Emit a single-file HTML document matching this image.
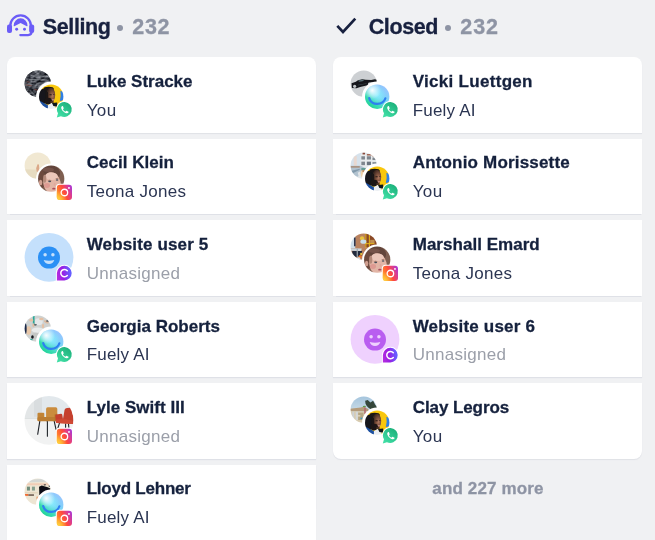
<!DOCTYPE html>
<html>
<head>
<meta charset="utf-8">
<style>
*{box-sizing:border-box;margin:0;padding:0}
html,body{width:655px;height:540px;overflow:hidden;background:#f0f1f3}
#wrap{position:absolute;left:0;top:0;width:655px;height:540px;will-change:transform}
body{position:relative;font-family:"Liberation Sans",sans-serif;color:#15213d}
.hd{-webkit-text-stroke:0.3px #18213f;position:absolute;top:13px;height:28px;line-height:28px;font-size:21.5px;font-weight:700;color:#18213f;white-space:nowrap;letter-spacing:-0.45px}
.cnt{-webkit-text-stroke:0.3px #8e94a4;position:absolute;top:13px;height:28px;line-height:28px;font-size:21.5px;font-weight:700;color:#8e94a4;white-space:nowrap}
.dot{position:absolute;width:6px;height:6px;border-radius:50%;background:#8e94a4;top:25px}
.card{position:absolute;width:308.5px;height:75.8px;background:#fff;box-shadow:0 1.2px 0.8px -0.3px rgba(140,146,170,.17)}
.card.first{border-radius:8px 8px 0 0}
.card.last{border-radius:0 0 8px 8px}
.nm{-webkit-text-stroke:0.28px #15213d;position:absolute;left:79.7px;top:13.8px;font-size:17px;line-height:22px;font-weight:700;color:#15213d;white-space:nowrap}
.sb{position:absolute;left:79.7px;top:42.7px;font-size:17px;line-height:22px;color:#2b3552;white-space:nowrap}
.sb.un{color:#9b9fa9}
.av{position:absolute;left:0;top:0;width:80px;height:76px;overflow:visible}
.more{-webkit-text-stroke:0.28px #8e94a4;position:absolute;left:334px;width:308px;top:478px;letter-spacing:0.14px;text-align:center;font-size:17px;line-height:22px;font-weight:700;color:#8e94a4}
.ico{position:absolute;overflow:visible}
</style>
</head>
<body><div id="wrap">
<svg width="0" height="0" style="position:absolute">
<defs>
<filter id="b3" x="-20%" y="-20%" width="140%" height="140%"><feGaussianBlur stdDeviation="0.35"/></filter>
<filter id="b6" x="-20%" y="-20%" width="140%" height="140%"><feGaussianBlur stdDeviation="0.6"/></filter>
<clipPath id="c122"><circle r="12.2"/></clipPath>
<clipPath id="c131"><circle r="13.15"/></clipPath>
<clipPath id="c244"><circle r="24.4"/></clipPath>

<!-- YOU avatar -->
<radialGradient id="yf" cx="0.68" cy="0.55" r="0.6">
 <stop offset="0" stop-color="#b07a60"/><stop offset="0.45" stop-color="#7c4f3b"/><stop offset="1" stop-color="#3c2820"/>
</radialGradient>
<g id="you">
 <g clip-path="url(#c122)"><g filter="url(#b3)">
  <rect x="-13" y="-13" width="26" height="26" fill="#f9c70c"/>
  <path d="M9.2,-6 Q13,-5 13,0 Q13,4 8.6,4.4 Q10,-1 9.2,-6Z" fill="#2f7fe6"/>
  <ellipse cx="-8" cy="-0.3" rx="5.2" ry="7.6" fill="#14171b"/>
  <ellipse cx="-2.6" cy="-7.6" rx="5.2" ry="2.4" fill="#1a1614"/>
  <ellipse cx="-0.4" cy="-1.6" rx="4.4" ry="7.4" fill="url(#yf)"/>
  <ellipse cx="-3" cy="4.4" rx="3.8" ry="3.4" fill="#1c1614"/>
  <ellipse cx="-4.6" cy="-1" rx="1.6" ry="4.4" fill="#1a1614"/>
  <ellipse cx="-0.6" cy="-1.9" rx="1.4" ry="0.55" fill="#1e1412"/>
  <ellipse cx="2.6" cy="-2.1" rx="0.9" ry="0.45" fill="#2a1a16"/>
  <ellipse cx="1.7" cy="3" rx="1.3" ry="0.75" fill="#c48e86"/>
  <ellipse cx="0.8" cy="5.2" rx="2" ry="1" fill="#4a3026"/>
  <path d="M-11.5,4 L-3,8.6 L-3,13 L-13,13Z" fill="#1d4f9f"/>
  <path d="M-3.3,8.4 L0.5,6.4 L4.4,8 L4.4,13 L-3.3,13Z" fill="#eceff3"/>
  <path d="M0.8,6.2 L6,5.8 L6,10 L2.2,9.2Z" fill="#10151a"/>
 </g></g>
</g>

<!-- TEONA avatar -->
<g id="teona">
 <g clip-path="url(#c131)"><g filter="url(#b3)">
  <rect x="-14" y="-14" width="28" height="28" fill="#7f5e51"/>
  <ellipse cx="-2.7" cy="-5.5" rx="11.5" ry="8.5" fill="#62443a"/>
  <ellipse cx="-3" cy="-9" rx="6" ry="2.2" fill="#74524a"/>
  <ellipse cx="-9.8" cy="0.6" rx="4" ry="9" fill="#6c4a3e"/>
  <ellipse cx="-10.6" cy="3.8" rx="1.7" ry="2.8" fill="#cf9f90"/>
  <ellipse cx="0.8" cy="4.4" rx="8.6" ry="11" fill="#e2b5a6" transform="rotate(-12 0.8 4.4)"/>
  <ellipse cx="0.3" cy="-2.4" rx="6.2" ry="3.8" fill="#ebc7ba"/>
  <ellipse cx="-6.5" cy="0" rx="1.6" ry="4" fill="#b48a7a"/>
  <ellipse cx="-4.2" cy="6.8" rx="3" ry="2.4" fill="#dd9a92"/>
  <ellipse cx="-1.5" cy="2.7" rx="1.5" ry="0.75" fill="#46505c"/>
  <ellipse cx="5.9" cy="1.2" rx="1.3" ry="0.75" fill="#46505c"/>
  <ellipse cx="-1.6" cy="1.5" rx="2" ry="0.45" fill="#8a6658"/>
  <ellipse cx="5.8" cy="0" rx="1.7" ry="0.4" fill="#8a6658"/>
  <ellipse cx="3.4" cy="5.6" rx="0.9" ry="1.6" fill="#dfa89c"/>
  <ellipse cx="2.7" cy="10" rx="1.8" ry="0.9" fill="#a74e5b"/>
 </g></g>
</g>

<!-- FUELY orb -->
<linearGradient id="fg1" x1="0.85" y1="0.1" x2="0.15" y2="0.9">
 <stop offset="0" stop-color="#98c4ff"/><stop offset="0.45" stop-color="#74d6f6"/><stop offset="0.75" stop-color="#3bdcb4"/><stop offset="1" stop-color="#1fd296"/>
</linearGradient>
<radialGradient id="fg2" cx="0.3" cy="0.24" r="0.36">
 <stop offset="0" stop-color="#fff" stop-opacity="0.95"/><stop offset="1" stop-color="#fff" stop-opacity="0"/>
</radialGradient>
<radialGradient id="fg3" cx="0.5" cy="0.42" r="0.36">
 <stop offset="0" stop-color="#8ef0ff" stop-opacity="0.9"/><stop offset="1" stop-color="#8ef0ff" stop-opacity="0"/>
</radialGradient>
<g id="fuely">
  <circle r="12.2" fill="url(#fg1)"/>
  <circle r="12.2" fill="url(#fg3)"/>
  <circle r="12.2" fill="url(#fg2)"/>
  <path d="M-8,1.4 Q-6.5,7.2 0,7.2 Q6.5,7.2 8.2,1.6" fill="none" stroke="#2e80f0" stroke-width="2.2" stroke-linecap="round" filter="url(#b3)"/>
</g>

<!-- WhatsApp badge: box 0..15.4 -->
<linearGradient id="wg" x1="0.8" y1="0.1" x2="0.2" y2="0.95">
 <stop offset="0" stop-color="#1db27c"/><stop offset="1" stop-color="#40dea5"/>
</linearGradient>
<g id="wa">
 <path id="wap" d="M7.9,0 A7.5,7.5 0 1 1 4.1,14.2 L0,15.4 L1.2,11.3 A7.5,7.5 0 0 1 7.9,0Z" fill="#fff" stroke="#fff" stroke-width="2" stroke-linejoin="round"/>
 <path d="M7.9,0 A7.5,7.5 0 1 1 4.1,14.2 L0,15.4 L1.2,11.3 A7.5,7.5 0 0 1 7.9,0Z" fill="url(#wg)"/>
 <path d="M5.6,3.9 C5.2,3.9 4.4,4.6 4.4,5.7 C4.4,7 5.5,8.6 6.9,9.8 C8.2,10.9 9.6,11.4 10.4,11.3 C11.2,11.2 11.8,10.6 11.8,10.1 C11.8,9.8 11.6,9.7 11.3,9.5 L10,8.9 C9.7,8.8 9.5,8.8 9.3,9.1 L8.9,9.6 C8.7,9.8 8.5,9.8 8.2,9.6 C7.5,9.2 6.7,8.4 6.3,7.7 C6.2,7.5 6.2,7.3 6.4,7.1 L6.7,6.7 C6.9,6.5 6.9,6.3 6.8,6 L6.3,4.5 C6.1,4 5.9,3.9 5.6,3.9Z" fill="#fff"/>
</g>

<!-- Instagram badge: box 0..15.2 -->
<linearGradient id="ig1" x1="0" y1="0.72" x2="1" y2="0.28">
 <stop offset="0" stop-color="#ffa42e"/><stop offset="0.2" stop-color="#ff7a30"/><stop offset="0.5" stop-color="#ff4a3c"/><stop offset="0.78" stop-color="#de3c8c"/><stop offset="1" stop-color="#ae38ce"/>
</linearGradient>
<radialGradient id="ig2" cx="0.05" cy="1.0" r="0.62">
 <stop offset="0" stop-color="#ffdc44"/><stop offset="0.45" stop-color="#ffc238" stop-opacity="0.75"/><stop offset="1" stop-color="#ffb030" stop-opacity="0"/>
</radialGradient>
<g id="ig" transform="translate(0,0.7)">
 <rect x="-1" y="-1" width="17.2" height="17.2" rx="4" fill="#fff"/>
 <rect x="0" y="0" width="15.2" height="15.2" rx="3" fill="url(#ig1)"/><rect x="0" y="0" width="15.2" height="15.2" rx="3" fill="url(#ig2)"/>
 <circle cx="7.6" cy="7.8" r="3.25" fill="none" stroke="#fff" stroke-width="1.3"/>
 <rect x="11.3" y="2.4" width="1.7" height="1.7" rx="0.4" fill="#fff"/>
</g>

<!-- C chat badge: box 0..15 x 0..14.6 -->
<linearGradient id="cg" x1="0" y1="0.6" x2="1" y2="0.45">
 <stop offset="0" stop-color="#b42ce0"/><stop offset="0.4" stop-color="#9a1ee2"/><stop offset="0.85" stop-color="#6a58ff"/><stop offset="1" stop-color="#6262ff"/>
</linearGradient>
<g id="cc" transform="translate(0.1,0.8)">
 <path d="M7.5,0 A7.3,7.3 0 0 1 7.5,14.6 L0,14.6 L0,7.3 A7.4,7.3 0 0 1 7.5,0Z" fill="#fff" stroke="#fff" stroke-width="2" stroke-linejoin="round"/>
 <path d="M7.5,0 A7.3,7.3 0 0 1 7.5,14.6 L0,14.6 L0,7.3 A7.4,7.3 0 0 1 7.5,0Z" fill="url(#cg)"/>
 <path d="M10.4,4.9 A3.7,3.7 0 1 0 10.4,9.7" fill="none" stroke="#fff" stroke-width="1.5" stroke-linecap="round"/>
</g>
</defs>
</svg>

<svg width="0" height="0" style="position:absolute">
<defs>
<filter id="noise1" x="0" y="0" width="100%" height="100%" color-interpolation-filters="sRGB">
  <feTurbulence type="fractalNoise" baseFrequency="0.22 0.55" numOctaves="2" seed="7" result="n"/>
  <feColorMatrix in="n" type="matrix" values="1.6 0 0 0 -0.50  1.6 0 0 0 -0.49  1.6 0 0 0 -0.46  0 0 0 0 1"/>
</filter>

<!-- P1 Luke: dark aerial -->
<g id="p1"><g clip-path="url(#c131)">
  <rect x="-14" y="-14" width="28" height="28" fill="#3f444a"/>
  <g transform="rotate(-14)"><rect x="-16" y="-16" width="32" height="32" filter="url(#noise1)" opacity="0.8"/></g>
  <g filter="url(#b3)" opacity="0.55">
   <path d="M-12,0.5 L-6,1.6 L-6,2.6 L-12,1.6Z M-3,5 L2,6.6 L1.6,7.8 L-3.4,6.2Z M-11,-2.5 L-8,-2 L-8,-1 L-11,-1.5Z" fill="#8a3a2c"/>
   <path d="M-7,-8.5 L9,-8 L9,-7 L-7,-7.5Z M-9,-4.8 L11,-4 L11,-3.2 L-9,-4Z M-2,-0.5 L6,0.3 L6,1.2 L-2,0.5Z" fill="#a4a9ae"/>
   <path d="M-8,4 L-2,10 L-5,12 L-10,7Z" fill="#23272c"/>
   <path d="M-7,6 L-3,11 L-4.5,12 L-8.5,7Z" fill="#6b7076"/>
  </g>
</g></g>

<!-- P2 Cecil: cream -->
<g id="p2"><g clip-path="url(#c131)"><g filter="url(#b3)">
  <rect x="-14" y="-14" width="28" height="28" fill="#f1e8d2"/>
  <path d="M-14,3.5 L1,4.2 L1,14 L-14,14Z" fill="#e7dcc1"/>
  <path d="M-0.2,-1.5 L1.2,-1.2 L1.6,4 L3.2,6 L-1,6 L-1.6,2.5Z" fill="#dba888"/>
</g></g></g>

<!-- P4 Georgia -->
<g id="p4"><g clip-path="url(#c131)"><g filter="url(#b6)">
  <rect x="-14" y="-14" width="28" height="28" fill="#cfd2d1"/>
  <ellipse cx="1" cy="-7" rx="4" ry="3.4" fill="#e4e7e8"/>
  <ellipse cx="0" cy="1.5" rx="6" ry="2.6" fill="#e9ebeb"/>
  <ellipse cx="-2" cy="7" rx="4" ry="3" fill="#c4c6c4"/>
  <rect x="-4.9" y="-13" width="1.7" height="8.6" rx="0.8" fill="#2aa898"/>
  <ellipse cx="-6.5" cy="-8.4" rx="2.2" ry="1.3" fill="#e6c2a4"/>
  <ellipse cx="-4.4" cy="-3.3" rx="1" ry="2" fill="#e0bea2"/>
  <ellipse cx="3.6" cy="-9.6" rx="2.2" ry="1.2" fill="#e4c0a4"/>
  <ellipse cx="8.6" cy="-6.8" rx="2.6" ry="1.2" fill="#dcb89c" transform="rotate(25 8.6 -6.8)"/>
  <ellipse cx="9.8" cy="-7.6" rx="1.6" ry="0.8" fill="#4a5058"/>
  <ellipse cx="5.3" cy="-2.6" rx="1.1" ry="2.2" fill="#e4c0a4"/>
  <ellipse cx="-9.2" cy="1.8" rx="2.6" ry="4.2" fill="#e8c8aa"/>
  <ellipse cx="-12.4" cy="0" rx="1.3" ry="5.5" fill="#1c2a48"/>
  <ellipse cx="-2.4" cy="-3.8" rx="1.6" ry="0.8" fill="#56646a"/>
  <ellipse cx="-5.3" cy="8.4" rx="1.3" ry="1.8" fill="#15171c"/>
  <ellipse cx="-6.5" cy="11" rx="1.5" ry="0.8" fill="#3aa99a"/>
</g></g></g>

<!-- P6 Lloyd -->
<g id="p6"><g clip-path="url(#c131)"><g filter="url(#b3)">
  <rect x="-14" y="-14" width="28" height="28" fill="#ede5d3"/>
  <path d="M-8,-12 L6,-13 L10,-10 L-9,-9.5Z" fill="#d5d8d5"/>
  <rect x="-14" y="-8.4" width="28" height="2" fill="#f1cdb6"/>
  <rect x="-10.8" y="-5" width="3" height="3.9" fill="#6f8d7b"/>
  <rect x="-5.8" y="-5" width="3" height="3.9" fill="#86a08f"/>
  <path d="M1.3,-5 L4,-6.2 L10,-4.5 L13,-3 L10,0 L5,3.2 L1.6,3.4Z" fill="#0f1113"/>
  <path d="M6,-7.2 L8,-7.4 L8,-6.4 L6,-6.2Z M11,-6.5 L12.4,-6.5 L12.4,-5 L11,-5Z" fill="#22262a"/>
  <rect x="-13.5" y="2.5" width="4.1" height="1.6" fill="#f05a1a"/>
  <rect x="-9.4" y="2.7" width="5.6" height="1.4" fill="#5e4b40"/>
  <ellipse cx="-0.6" cy="6.3" rx="0.8" ry="1.6" fill="#e79f72"/>
  <rect x="-14" y="0.9" width="14" height="0.7" fill="#d9c6a6"/>
</g></g></g>

<!-- P7 Vicki: car -->
<g id="p7"><g clip-path="url(#c131)"><g filter="url(#b3)">
  <rect x="-14" y="-14" width="28" height="28" fill="#cdd0d3"/>
  <path d="M-11.9,4.25 L-12.2,-0.3 L-7.9,-1.9 L-5.8,-3.4 L-1.5,-4.5 L1.9,-4 L7.4,-3.7 L11,-4.5 L13.4,-4 L13.4,-1.9 L8,-1.2 L4.9,-0.9 L3.7,1.5 L-3.6,3.3 L-7.3,4.6Z" fill="#14171b"/>
  <path d="M-5.6,-2.9 L-1.6,-4 L0.6,-3.7 L-1.2,-2.3 L-4.6,-1.9Z" fill="#5c727a"/>
  <circle cx="-9.1" cy="2.7" r="1.6" fill="#c2c6ca"/>
  <path d="M-6,1.2 L3,-0.4 L3,0.2 L-6,1.9Z" fill="#39424a"/>
  <path d="M4.9,-0.9 L8,-1.2 L7,0 L4.4,0.3Z" fill="#e2e4e6"/>
</g></g></g>

<!-- P8 Antonio: building -->
<g id="p8"><g clip-path="url(#c131)"><g filter="url(#b3)">
  <rect x="-14" y="-14" width="28" height="28" fill="#e2e7ea"/>
  <path d="M-14,-14 L-2,-14 L-3.4,0 L-14,0Z" fill="#d6e2ec"/>
  <path d="M-10,-9 L-7,-10 L-7,0 L-10,0Z" fill="#e8d8d0"/>
  <path d="M-3,-11.5 L13.5,-11.5 L13.5,1 L-3,1Z" fill="#e9ecee"/>
  <g fill="#7f868e">
   <rect x="-2.4" y="-9.4" width="3.6" height="3.3"/><rect x="3.1" y="-9.4" width="4.1" height="3.3"/><rect x="8.7" y="-8.2" width="3.6" height="2.6"/>
   <rect x="-2.4" y="-4" width="3.6" height="3.5"/><rect x="3.1" y="-4" width="4.1" height="3.5" fill="#6c7480"/><rect x="8.7" y="-3.7" width="4" height="2.8" fill="#8d949c"/>
  </g>
  <rect x="-1.2" y="-13.2" width="2.5" height="2" fill="#8a4a3a"/>
  <rect x="3.1" y="-11.6" width="4.8" height="1.5" fill="#9e6250"/>
  <rect x="8.4" y="-10.4" width="2" height="1.2" fill="#a8705c"/>
  <path d="M-14,0 L-3,0 L1,2 L0,6 L-6,11 L-14,8Z" fill="#b1c2cf"/>
  <rect x="-13.5" y="0.6" width="9.5" height="1.3" fill="#a8856c"/>
  <path d="M-12,5 L-4,3 L-4,4 L-11,7.5Z" fill="#8199ab"/>
  <rect x="-2.4" y="2.4" width="4.4" height="2.5" fill="#5f9c92"/>
  <ellipse cx="-1.4" cy="8" rx="1.6" ry="3.4" fill="#ecd0ac"/>
  <circle cx="-0.2" cy="5.4" r="1.3" fill="#b98a62"/>
  <path d="M-6,7 L-3.5,5.5 L-3,9 L-5,11Z" fill="#e3e6e8"/>
</g></g></g>

<!-- P9 Marshall -->
<g id="p9"><g clip-path="url(#c131)"><g filter="url(#b3)">
  <rect x="-14" y="-14" width="28" height="28" fill="#b9825f"/>
  <rect x="-14" y="-11" width="5.5" height="12.6" fill="#cfdfeb"/>
  <rect x="-9.7" y="-9.2" width="1.5" height="8.8" fill="#2a3048"/>
  <rect x="1.3" y="-13" width="12" height="13.4" fill="#8a4826"/>
  <rect x="6.4" y="-6.8" width="4.4" height="3.4" fill="#c09050"/>
  <g fill="#e7b81f">
   <rect x="1.6" y="-13" width="1" height="14"/><rect x="5.1" y="-13" width="1" height="14"/><rect x="1.3" y="-3.5" width="9.4" height="1"/>
  </g>
  <ellipse cx="-1.7" cy="-8.3" rx="2.1" ry="2.1" fill="#e8c43c"/>
  <ellipse cx="-0.4" cy="-5" rx="3" ry="2.1" fill="#c9dde9"/>
  <path d="M-14,1.6 L-2,1.9 L-2.6,4.4 L-14,4.2Z" fill="#cbd6de"/>
  <path d="M-11.5,4.3 L-1.6,4.4 L-2.2,9 L-8,10.5 L-11.5,8Z" fill="#222a3c"/>
  <rect x="-7.1" y="1.9" width="1.2" height="9" fill="#9ea8b0"/>
  <ellipse cx="-2.6" cy="7.4" rx="1" ry="1.2" fill="#e8c43c"/>
  <ellipse cx="-3.6" cy="9.8" rx="1.6" ry="1.5" fill="#e8742e"/>
  <ellipse cx="-5" cy="11.5" rx="1.6" ry="0.9" fill="#d8dde2"/>
</g></g></g>

<!-- P11 Clay -->
<linearGradient id="sky" x1="0" y1="0" x2="0" y2="1"><stop offset="0" stop-color="#a3c4dd"/><stop offset="0.5" stop-color="#c6d9e5"/></linearGradient>
<g id="p11"><g clip-path="url(#c131)"><g filter="url(#b3)">
  <rect x="-14" y="-14" width="28" height="28" fill="url(#sky)"/>
  <path d="M1.4,-9 L4,-9.6 L6.6,-7.2 L9.4,-8.8 L11.4,-5 L13.5,-2.4 L13.5,0.6 L8,0 L5,-1.6 L3,-3.6 L1.8,-6Z" fill="#35463a"/>
  <path d="M-14,-0.9 L-3,-2.2 L0,-3 L4,-1 L6.6,1.9 L-14,1.6Z" fill="#b49b7a"/>
  <path d="M-14,1.5 L6.6,1.8 L3,14 L-14,14Z" fill="#d8ccb1"/>
  <rect x="-11.4" y="2.2" width="1.8" height="7.4" fill="#cdd2d6"/>
  <rect x="-8" y="2.2" width="2.2" height="8" fill="#d3d6d8"/>
  <rect x="-5.6" y="3" width="5.4" height="7.4" fill="#b5a684"/>
  <rect x="-6.4" y="5.6" width="3" height="1.2" fill="#e6dcc4"/>
  <rect x="0.5" y="-2.2" width="1.5" height="6.4" fill="#b2646c"/>
  <ellipse cx="0.6" cy="-3.2" rx="1.6" ry="0.8" fill="#5f9c4c"/>
  <rect x="-3.2" y="8" width="1.7" height="1.5" fill="#3b9bc9"/>
</g></g></g>

<!-- P5 Lyle big (r=24.4) -->
<g id="p5"><g clip-path="url(#c244)"><g filter="url(#b3)">
  <rect x="-25" y="-25" width="50" height="50" fill="#e9ebec"/>
  <rect x="-25" y="-25" width="18" height="23" fill="#e3e6e7"/>
  <rect x="-15" y="-23" width="8" height="19.5" fill="#d9dddf"/>
  <rect x="-7" y="-25" width="32" height="24" fill="#e2e8ec"/>
  <rect x="-25" y="-1.8" width="50" height="27" fill="#f1f2f2"/>
  <rect x="-25" y="-2.2" width="18" height="0.8" fill="#dadddd"/>
  <!-- tan chair -->
  <g stroke="#1e2228" stroke-width="1.1" fill="none" stroke-linecap="round">
   <path d="M-9.2,0.8 L-11.3,14"/><path d="M-1.6,1 L-1.6,16"/><path d="M5.2,0.8 L7,9"/>
  </g>
  <rect x="-2.9" y="-13" width="11.2" height="12" rx="1.6" fill="#ca8c3e"/>
  <rect x="-11.5" y="-7.6" width="6.8" height="8" rx="1" fill="#c28434"/>
  <rect x="-11.5" y="-3.4" width="19.8" height="4.3" rx="1" fill="#bb7d30"/>
  <path d="M5.6,-6 L8.3,-6.6 L8.3,0 L5.6,0Z" fill="#b5772c"/>
  <!-- red chair -->
  <g stroke="#1e2228" stroke-width="1.1" fill="none" stroke-linecap="round">
   <path d="M10.4,3 L9,7.4"/><path d="M16.6,3.6 L16.6,7.2"/><path d="M19.5,3.6 L19.8,7"/>
  </g>
  <path d="M15.6,-10.6 Q16.2,-12 18,-12.2 L21,-12.6 Q22.4,-12.4 22.8,-11 L24.6,-2 L24.4,3.6 L8,2.8 Q7,2.6 6.9,1.6 L6.3,-4.6 Q6.4,-5.6 7.4,-5.8 L12,-6.6 Q13,-6.6 13.2,-5.8 L14,-1.4 Z" fill="#c5402e"/>
  <path d="M7,-0.6 L14.2,-1.4 L23,0.2 L24.4,3.6 L8,2.8 Q7,2.6 6.9,1.6Z" fill="#d14a34"/>
</g></g></g>

</defs>
</svg>

<svg class="ico" style="left:6.9px;top:14.1px" width="27.2" height="22.3" viewBox="0 0 27 22" preserveAspectRatio="none">
<g fill="none" stroke="#6b5cf7" stroke-width="2.2" stroke-linecap="round">
<path d="M3.2,12 A10.3,10.6 0 0 1 23.8,12"/>
<path d="M24.4,17.6 Q24.4,20.8 21,20.8 L13.2,20.8"/>
</g>
<g fill="#6b5cf7">
<rect x="0" y="10.4" width="5" height="8.4" rx="2"/>
<rect x="22" y="10.4" width="5" height="8.4" rx="2"/>
<path d="M6.6,11.6 A6.9,7.3 0 0 1 20.4,11.6 Q20.4,12.3 19.7,12 L13.5,8.9 L7.3,12 Q6.6,12.3 6.6,11.6Z"/>
<circle cx="9.6" cy="15" r="1.45"/><circle cx="17.4" cy="15" r="1.45"/>
</g></svg>
<svg class="ico" style="left:330px;top:10.4px" width="32" height="30" viewBox="330 10 32 30">
<path d="M337.3,25.8 L343,31.9 L355.3,18.6" fill="none" stroke="#18213f" stroke-width="2.7" stroke-linejoin="miter"/></svg>
<div class="hd" style="left:42.8px;letter-spacing:-0.38px">Selling</div><div class="dot" style="left:117.3px"></div><div class="cnt" style="left:132.3px;letter-spacing:0.7px">232</div>
<div class="hd" style="left:368.7px;letter-spacing:-0.38px">Closed</div><div class="dot" style="left:445px"></div><div class="cnt" style="left:460.3px;letter-spacing:0.9px">232</div>
<div class="card first" style="left:7px;top:57px"><svg class="av" viewBox="0 0 80 76"><use href="#p1" transform="translate(30.75,26.65)"/><circle cx="44.2" cy="39.7" r="15.1" fill="#fff"/><use href="#you" transform="translate(44.2,39.7)"/><use href="#wa" transform="translate(49.8,45.0)"/></svg><div class="nm" style="top:14px;letter-spacing:0px">Luke Stracke</div><div class="sb" style="letter-spacing:0.4px">You</div></div>
<div class="card" style="left:7px;top:138.5px"><svg class="av" viewBox="0 0 80 76"><use href="#p2" transform="translate(30.75,26.65)"/><circle cx="44.2" cy="39.7" r="15.1" fill="#fff"/><use href="#teona" transform="translate(44.2,39.7)"/><use href="#ig" transform="translate(49.8,45.0)"/></svg><div class="nm" style="top:13.5px;letter-spacing:0.02px">Cecil Klein</div><div class="sb" style="letter-spacing:0.3px">Teona Jones</div></div>
<div class="card" style="left:7px;top:220px"><svg class="av" viewBox="0 0 80 76"><circle cx="42" cy="37.3" r="24.4" fill="#c4e0fc"/><circle cx="42" cy="37.599999999999994" r="11" fill="#2b90f5"/><circle cx="38.1" cy="34.699999999999996" r="1.75" fill="#c4e0fc"/><circle cx="45.9" cy="34.699999999999996" r="1.75" fill="#c4e0fc"/><path d="M36.7,40.05 Q42,41.5 47.3,40.05 Q46,44.0 42,44.0 Q38,44.0 36.7,40.05Z" fill="#c4e0fc"/><use href="#cc" transform="translate(49.8,45.0)"/></svg><div class="nm" style="top:14px;letter-spacing:0.15px">Website user 5</div><div class="sb un" style="letter-spacing:0.27px">Unnasigned</div></div>
<div class="card" style="left:7px;top:301.5px"><svg class="av" viewBox="0 0 80 76"><use href="#p4" transform="translate(30.75,26.65)"/><circle cx="44.2" cy="39.7" r="15.1" fill="#fff"/><use href="#fuely" transform="translate(44.2,39.7)"/><use href="#wa" transform="translate(49.8,45.0)"/></svg><div class="nm" style="top:14.5px;letter-spacing:0px">Georgia Roberts</div><div class="sb" style="letter-spacing:0.2px">Fuely AI</div></div>
<div class="card" style="left:7px;top:383px"><svg class="av" viewBox="0 0 80 76"><use href="#p5" transform="translate(42,37.3)"/><use href="#ig" transform="translate(49.8,45.0)"/></svg><div class="nm" style="top:14px;letter-spacing:0.03px">Lyle Swift III</div><div class="sb un" style="letter-spacing:0.27px">Unnasigned</div></div>
<div class="card" style="left:7px;top:464.5px"><svg class="av" viewBox="0 0 80 76"><use href="#p6" transform="translate(30.75,26.65)"/><circle cx="44.2" cy="39.7" r="15.1" fill="#fff"/><use href="#fuely" transform="translate(44.2,39.7)"/><use href="#ig" transform="translate(49.8,45.0)"/></svg><div class="nm" style="top:13.5px;letter-spacing:-0.23px">Lloyd Lehner</div><div class="sb" style="letter-spacing:0.2px">Fuely AI</div></div>
<div class="card first" style="left:333px;top:57px"><svg class="av" viewBox="0 0 80 76"><use href="#p7" transform="translate(30.75,26.65)"/><circle cx="44.2" cy="39.7" r="15.1" fill="#fff"/><use href="#fuely" transform="translate(44.2,39.7)"/><use href="#wa" transform="translate(49.8,45.0)"/></svg><div class="nm" style="top:14px;letter-spacing:0.3px">Vicki Luettgen</div><div class="sb" style="letter-spacing:0.2px">Fuely AI</div></div>
<div class="card" style="left:333px;top:138.5px"><svg class="av" viewBox="0 0 80 76"><use href="#p8" transform="translate(30.75,26.65)"/><circle cx="44.2" cy="39.7" r="15.1" fill="#fff"/><use href="#you" transform="translate(44.2,39.7)"/><use href="#wa" transform="translate(49.8,45.0)"/></svg><div class="nm" style="top:13.5px;letter-spacing:0.18px">Antonio Morissette</div><div class="sb" style="letter-spacing:0.4px">You</div></div>
<div class="card" style="left:333px;top:220px"><svg class="av" viewBox="0 0 80 76"><use href="#p9" transform="translate(30.75,26.65)"/><circle cx="44.2" cy="39.7" r="15.1" fill="#fff"/><use href="#teona" transform="translate(44.2,39.7)"/><use href="#ig" transform="translate(49.8,45.0)"/></svg><div class="nm" style="top:14px;letter-spacing:0.03px">Marshall Emard</div><div class="sb" style="letter-spacing:0.3px">Teona Jones</div></div>
<div class="card" style="left:333px;top:301.5px"><svg class="av" viewBox="0 0 80 76"><circle cx="42" cy="37.3" r="24.4" fill="#efd1fe"/><circle cx="42" cy="37.599999999999994" r="11" fill="#b95ef0"/><circle cx="38.1" cy="34.699999999999996" r="1.75" fill="#efd1fe"/><circle cx="45.9" cy="34.699999999999996" r="1.75" fill="#efd1fe"/><path d="M36.7,40.05 Q42,41.5 47.3,40.05 Q46,44.0 42,44.0 Q38,44.0 36.7,40.05Z" fill="#efd1fe"/><use href="#cc" transform="translate(49.8,45.0)"/></svg><div class="nm" style="top:14.5px;letter-spacing:0.19px">Website user 6</div><div class="sb un" style="letter-spacing:0.27px">Unnasigned</div></div>
<div class="card last" style="left:333px;top:383px"><svg class="av" viewBox="0 0 80 76"><use href="#p11" transform="translate(30.75,26.65)"/><circle cx="44.2" cy="39.7" r="15.1" fill="#fff"/><use href="#you" transform="translate(44.2,39.7)"/><use href="#wa" transform="translate(49.8,45.0)"/></svg><div class="nm" style="top:14px;letter-spacing:-0.08px">Clay Legros</div><div class="sb" style="letter-spacing:0.4px">You</div></div>
<div class="more">and 227 more</div>

</div></body>
</html>
